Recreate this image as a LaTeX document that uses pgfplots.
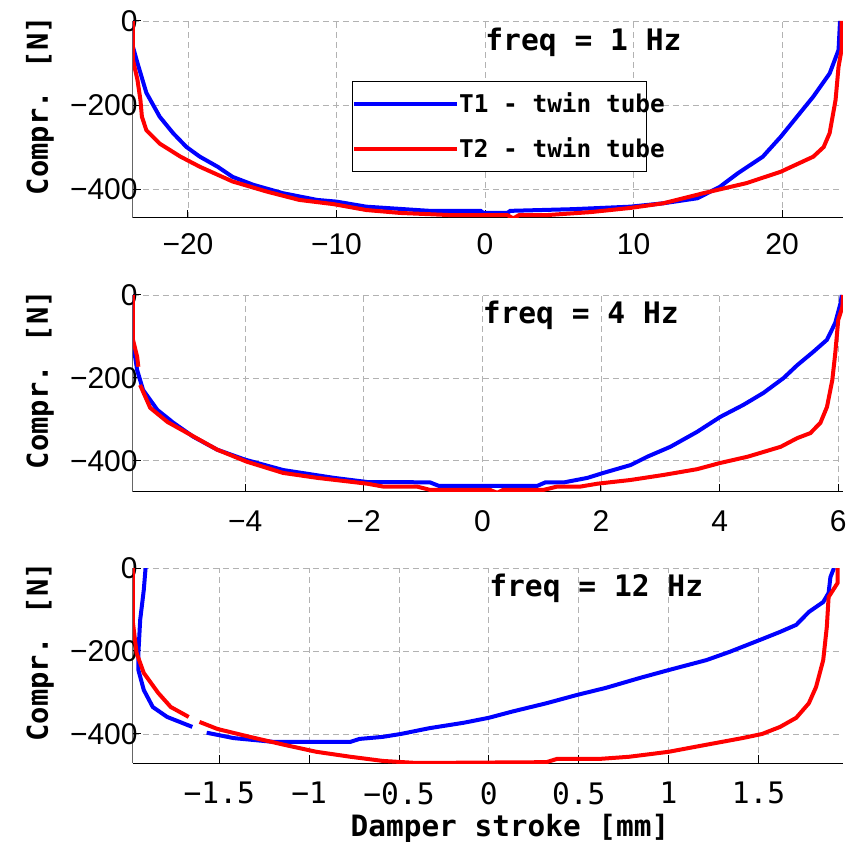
\documentclass[border=0pt]{standalone}
\usepackage{fontspec}
\setmainfont{Liberation Sans}
\newfontfamily\mono{DejaVu Sans Mono}
\usepackage{pgfplots}
\pgfplotsset{compat=1.18}
\definecolor{mblue}{RGB}{0,0,255}
\definecolor{mred}{RGB}{255,0,0}
\pgfplotsset{panel/.style={
  scale only axis, width=355pt, anchor=south west,
  axis x line*=bottom, axis y line*=left,
  axis line style={-, line width=0.5pt},
  y axis line style={gray!80!black},
  tick align=inside, major tick length=4pt,
  tick style={black, line width=0.5pt},
  grid=major, grid style={densely dashed, black!30, line width=0.4pt},
  ymax=0, ytick={-400,-200,0}, yticklabels={−400,−200,0},
  tick label style={font=\fontsize{15}{15}\selectfont},
  yticklabel style={anchor=east, inner sep=0pt, xshift=2.5pt},
  xticklabel style={anchor=north, inner sep=0pt},
  every axis plot/.append style={line width=2pt, no markers},
  ylabel={Compr. [N]},
  ylabel style={at={(axis description cs:-0.131,0.57)}, anchor=center, font=\mono\bfseries\fontsize{14.4}{15}\selectfont},
}}
\begin{document}
\begin{tikzpicture}
\useasboundingbox (0,0) rectangle (426.5pt,421pt);
% ---------- panel 1 ----------
\begin{axis}[panel, at={(66.5pt,312pt)}, height=98.5pt,
  xmin=-23.7, xmax=24.1, ymin=-469,
  xtick={-20,-10,0,10,20}, xticklabels={−20,−10,0,10,20},
  xticklabel style={yshift=-7.5pt},
  legend cell align=left,
  legend style={at={(axis description cs:0.308,0.695)}, anchor=north west,
    draw=black, line width=0.5pt, inner xsep=0pt, inner ysep=5.5pt, row sep=11pt,
    font=\mono\bfseries\fontsize{12.2}{13}\selectfont,
    nodes={inner sep=0pt},
    /tikz/every even column/.append style={column sep=4pt}},
  legend image code/.code={\path (0pt,0pt) -- (51.5pt,0pt); \draw[#1, line width=2pt] (8.5pt,0pt) -- (51.5pt,0pt);},
]
\addplot[mblue] coordinates {(-23.7,0) (-23.7,-62) (-23.4,-100) (-22.8,-171) (-21.9,-228) (-21.0,-267) (-20.1,-300) (-19.2,-323) (-18.0,-347) (-17.0,-371) (-15.6,-390) (-13.6,-410) (-11.3,-426) (-10.0,-430) (-8.0,-442) (-4.6,-450) (-3.7,-452) (-0.3,-452) (-0.1,-457) (1.5,-457) (1.7,-452) (5.9,-448) (9.8,-442) (12.0,-434) (14.3,-422) (15.8,-395) (17.0,-363) (18.7,-323) (19.9,-276) (21.0,-228) (22.1,-180) (23.2,-125) (23.8,-69) (23.9,0)};
\addlegendentry{\makebox[93.5pt][l]{T1 - twin tube}}
\addplot[mred] coordinates {(-23.7,0) (-23.7,-93) (-23.4,-140) (-23.2,-188) (-23.1,-228) (-22.8,-260) (-21.9,-292) (-20.5,-323) (-19.2,-347) (-17.0,-382) (-14.7,-406) (-12.5,-426) (-10.2,-436) (-8.0,-450) (-5.7,-457) (-2.4,-462) (1.5,-462) (1.9,-470) (2.3,-462) (4.2,-462) (7.1,-455) (9.8,-445) (12.0,-434) (14.7,-410) (17.6,-386) (19.9,-359) (22.1,-323) (22.8,-300) (23.2,-267) (23.6,-188) (23.8,-109) (24.0,-69) (24.0,0)};
\addlegendentry{\makebox[93.5pt][l]{\rule[-4pt]{0pt}{1pt}T2 - twin tube}}
\node[anchor=west, inner sep=0pt, font=\mono\bfseries\fontsize{14.8}{15}\selectfont] at (axis cs:0,-50) {freq = 1 Hz};
\end{axis}
% ---------- panel 2 ----------
\begin{axis}[panel, at={(66.5pt,175pt)}, height=98.5pt,
  xmin=-5.89, xmax=6.08, ymin=-475,
  xtick={-4,-2,0,2,4,6}, xticklabels={−4,−2,0,2,4,6},
  xticklabel style={yshift=-9pt},
]
\addplot[mblue] coordinates {(-5.89,0) (-5.89,-116) (-5.82,-181) (-5.72,-229) (-5.48,-277) (-5.21,-308) (-4.87,-342) (-4.47,-373) (-4.0,-397) (-3.36,-422) (-2.5,-441) (-1.94,-451) (-1.43,-451) (-0.88,-452) (-0.74,-460) (0.93,-460) (1.06,-452) (1.37,-452) (1.77,-441) (2.04,-429) (2.5,-410) (2.78,-390) (3.17,-366) (3.62,-330) (4.01,-294) (4.4,-265) (4.74,-236) (5.08,-200) (5.31,-169) (5.58,-137) (5.81,-108) (5.95,-67) (6.04,-19) (6.06,0)};
\addplot[mred] coordinates {(-5.89,0) (-5.89,-108) (-5.82,-149) (-5.80,-173)};
\addplot[mred] coordinates {(-5.77,-217) (-5.6,-272) (-5.31,-306) (-4.92,-337) (-4.47,-373) (-3.97,-402) (-3.36,-429) (-2.78,-441) (-1.94,-455) (-1.67,-462) (-1.1,-462) (-0.88,-470) (0.13,-470) (0.25,-477) (0.35,-470) (1.03,-470) (1.26,-462) (1.65,-462) (1.94,-455) (2.5,-446) (3.05,-434) (3.62,-420) (4.01,-405) (4.47,-390) (5.03,-366) (5.31,-345) (5.53,-333) (5.7,-308) (5.81,-270) (5.9,-205) (5.95,-140) (6.0,-60) (6.07,-29) (6.08,0)};
\node[anchor=west, inner sep=0pt, font=\mono\bfseries\fontsize{14.8}{15}\selectfont] at (axis cs:0,-50) {freq = 4 Hz};
\end{axis}
% ---------- panel 3 ----------
\begin{axis}[panel, at={(66.5pt,39.5pt)}, height=97.5pt,
  xmin=-1.98, xmax=1.97, ymin=-470,
  xtick={-1.5,-1,-0.5,0,0.5,1,1.5}, xticklabels={−1.5,−1,−0.5,0,0.5,1,1.5},
  xticklabel style={yshift=-9.5pt, font=\mono\fontsize{14.8}{15}\selectfont},
  xlabel={Damper stroke [mm]},
  xlabel style={at={(axis description cs:0.531,-0.333)}, anchor=center, font=\mono\bfseries\fontsize{14.7}{15}\selectfont},
]
\addplot[mblue] coordinates {(-1.91,0) (-1.92,-53) (-1.94,-125) (-1.95,-205) (-1.95,-246) (-1.92,-294) (-1.87,-335) (-1.79,-359) (-1.72,-371) (-1.65,-383)};
\addplot[mblue] coordinates {(-1.57,-397) (-1.42,-410) (-1.2,-419) (-0.77,-419) (-0.72,-412) (-0.59,-407) (-0.49,-400) (-0.33,-386) (-0.14,-373) (0.0,-361) (0.13,-346) (0.32,-326) (0.49,-306) (0.65,-289) (0.84,-265) (1.0,-246) (1.21,-222) (1.34,-202) (1.51,-173) (1.62,-154) (1.71,-137) (1.78,-106) (1.86,-82) (1.89,-60) (1.9,-22) (1.92,0)};
\addplot[mred] coordinates {(-1.98,0) (-1.98,-133) (-1.96,-205) (-1.92,-253) (-1.84,-301) (-1.77,-335) (-1.67,-359)};
\addplot[mred] coordinates {(-1.61,-371) (-1.51,-388) (-1.33,-407) (-1.14,-426) (-0.96,-443) (-0.77,-455) (-0.59,-465) (-0.4,-470) (0.32,-468) (0.38,-460) (0.62,-460) (0.78,-455) (1.0,-443) (1.21,-426) (1.41,-410) (1.52,-400) (1.62,-383) (1.71,-361) (1.78,-326) (1.82,-287) (1.86,-222) (1.88,-142) (1.89,-70) (1.94,-36) (1.94,0)};
\node[anchor=west, inner sep=0pt, font=\mono\bfseries\fontsize{14.8}{15}\selectfont] at (axis cs:0,-50) {freq = 12 Hz};
\end{axis}
\end{tikzpicture}
\end{document}
